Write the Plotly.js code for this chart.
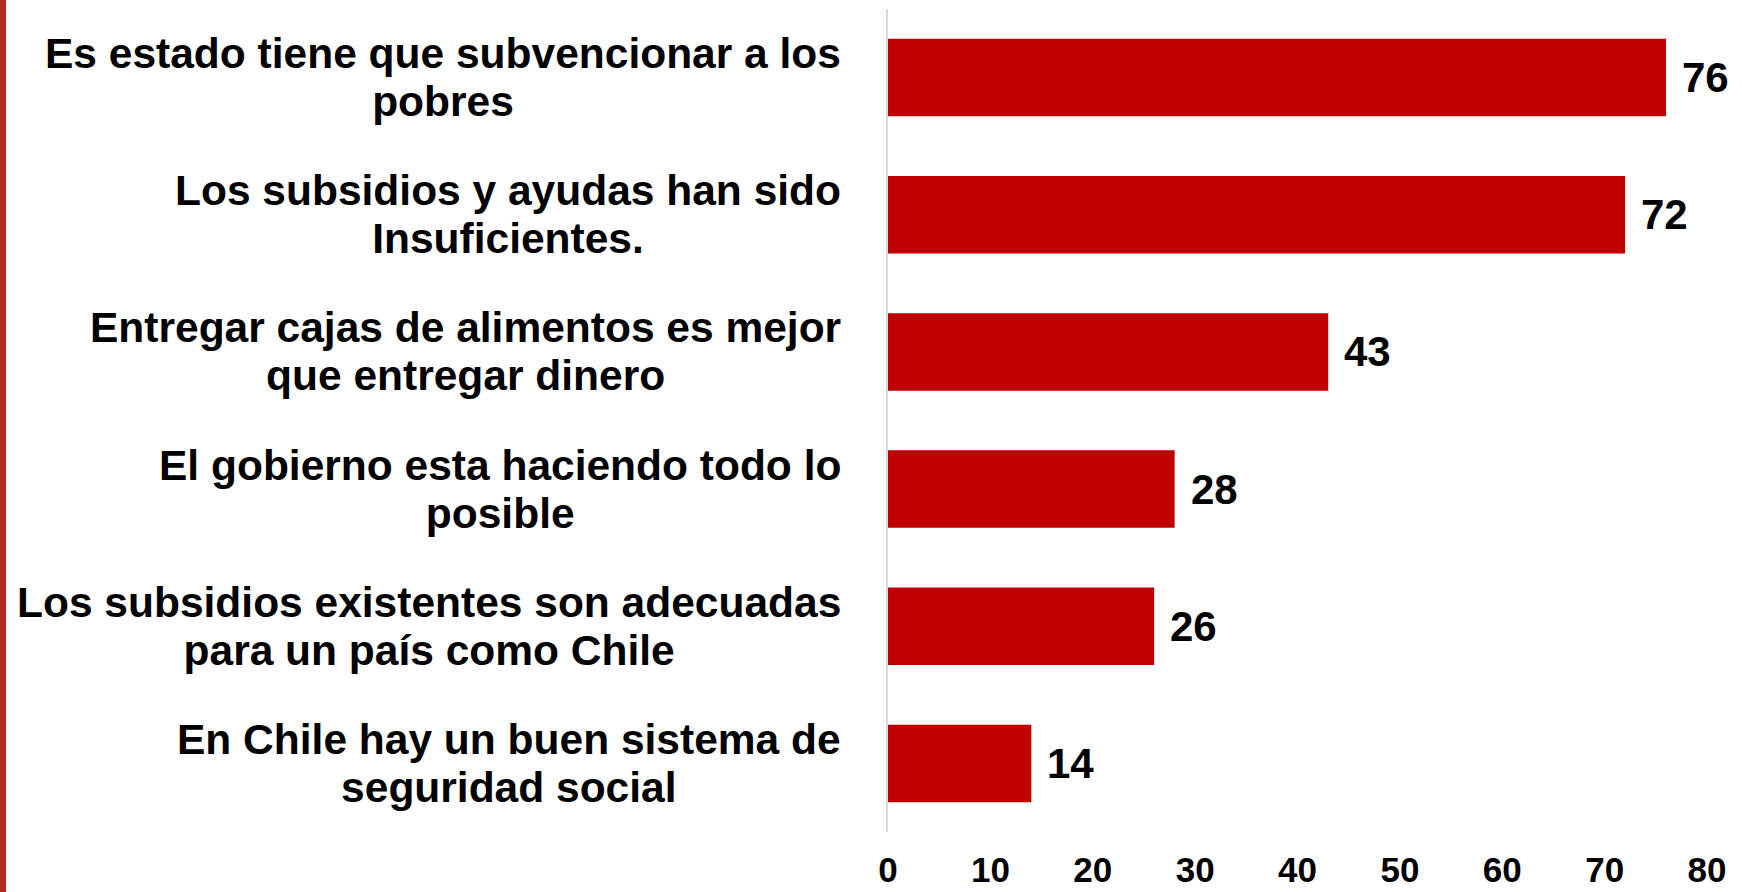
<!DOCTYPE html>
<html>
<head>
<meta charset="utf-8">
<script src="https://cdn.plot.ly/plotly-3.0.1.min.js"></script>
<style>
  html, body { margin: 0; padding: 0; background: #ffffff; }
  #wrap { position: relative; width: 1742px; height: 892px; }
  #chart { width: 1742px; height: 892px; }
  #edge { position: absolute; left: 0; top: 0; width: 6px; height: 892px; background: #B8281E; }
</style>
</head>
<body>
<div id="wrap">
  <div id="chart"></div>
  <div id="edge"></div>
</div>
<script>
// ---- data ----
const categories = [
  "Es estado tiene que subvencionar a los<br>pobres",
  "Los subsidios y ayudas han sido<br>Insuficientes.",
  "Entregar cajas de alimentos es mejor<br>que entregar dinero",
  "El gobierno esta haciendo todo lo<br>posible",
  "Los subsidios existentes son adecuadas<br>para un país como Chile",
  "En Chile hay un buen sistema de<br>seguridad social"
];
const values = [76, 72, 43, 28, 26, 14];
const tickValues = [0, 10, 20, 30, 40, 50, 60, 70, 80];
const tickLabels = ["0", "10", "20", "30", "40", "50", "60", "70", "80"];

// ---- styles ----
const FONT = "Liberation Sans, Arial, Helvetica, sans-serif";
const BAR_COLOR = "#C00000";

const trace = {
  type: "bar",
  orientation: "h",
  x: values,
  y: categories,
  marker: { color: BAR_COLOR, line: { width: 0 } },
  hoverinfo: "none"
};

const valueAnnotations = values.map((v, i) => ({
  x: v, y: categories[i], xref: "x", yref: "y",
  text: String(v), showarrow: false,
  xanchor: "left", yanchor: "middle", xshift: 14,
  font: { family: FONT, size: 42, color: "#000000", weight: "bold" }
}));

const labelAnnotations = categories.map((c) => ({
  x: 0, y: c, xref: "paper", yref: "y",
  text: c.split("<br>").map(s => '<span style="font-size:42.5px">' + s + '</span>').join("<br>"),
  showarrow: false, align: "center",
  xanchor: "right", yanchor: "middle", xshift: -45,
  font: { family: FONT, size: 37, color: "#000000", weight: "bold" }
}));

const layout = {
  width: 1742, height: 892,
  margin: { l: 888, r: 35, t: 9, b: 60, pad: 0 },
  paper_bgcolor: "#ffffff", plot_bgcolor: "#ffffff",
  showlegend: false,
  bargap: 0.435,
  font: { family: FONT, color: "#000000" },
  xaxis: {
    range: [0, 80], tickmode: "array", tickvals: tickValues, ticktext: tickLabels,
    showgrid: false, zeroline: false, showline: false, ticks: "",
    ticklabelstandoff: 14,
    tickfont: { family: FONT, size: 35, color: "#000000", weight: "bold" },
    fixedrange: true
  },
  yaxis: {
    type: "category", autorange: "reversed",
    showticklabels: false, showgrid: false, zeroline: false,
    showline: true, linecolor: "#d9d9d9", linewidth: 2, ticks: "",
    fixedrange: true
  },
  annotations: labelAnnotations.concat(valueAnnotations)
};

Plotly.newPlot("chart", [trace], layout, { displayModeBar: false, staticPlot: true });
</script>
</body>
</html>
